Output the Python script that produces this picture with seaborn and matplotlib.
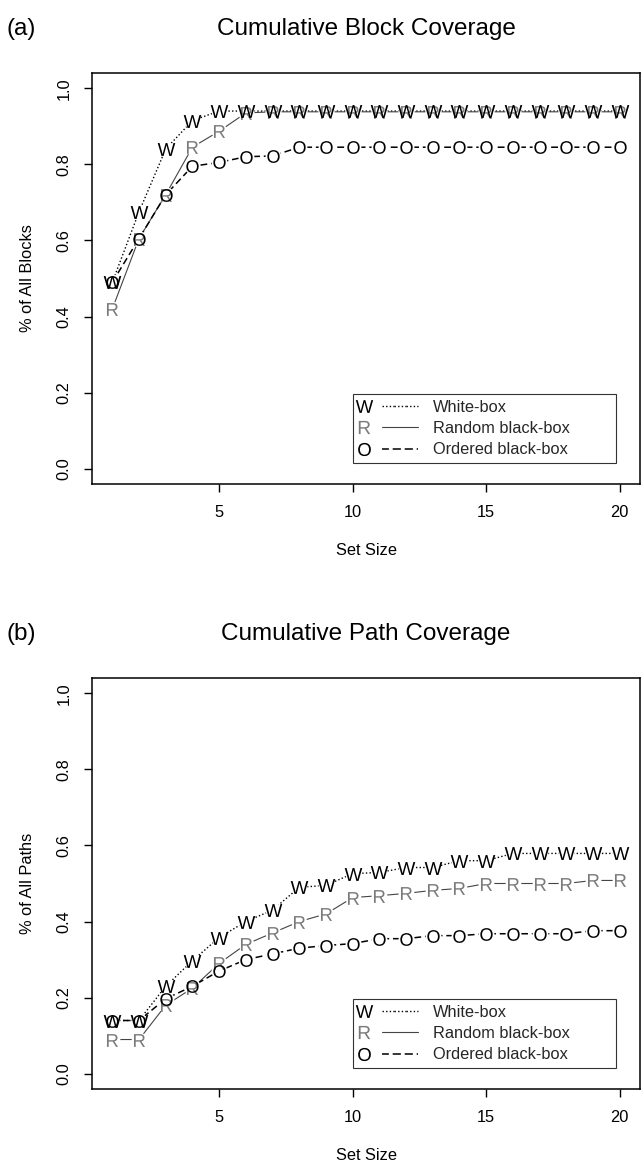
import matplotlib
matplotlib.use("Agg")
import matplotlib.pyplot as plt
import seaborn as sns
from matplotlib.lines import Line2D
from matplotlib.legend_handler import HandlerTuple
from matplotlib.ticker import FormatStrFormatter

# ---------------- data ----------------
set_size = list(range(1, 21))

block_white = [0.49, 0.675, 0.84, 0.915, 0.94, 0.94, 0.94, 0.94, 0.94, 0.94,
               0.94, 0.94, 0.94, 0.94, 0.94, 0.94, 0.94, 0.94, 0.94, 0.94]
block_random = [0.42, 0.605, 0.72, 0.845, 0.887, 0.935, 0.938, 0.938, 0.938, 0.938,
                0.938, 0.938, 0.938, 0.938, 0.938, 0.938, 0.938, 0.938, 0.938, 0.938]
block_ordered = [0.49, 0.605, 0.72, 0.795, 0.805, 0.82, 0.822, 0.845, 0.845, 0.845,
                 0.845, 0.845, 0.845, 0.845, 0.845, 0.845, 0.845, 0.845, 0.845, 0.845]

path_white = [0.14, 0.14, 0.23, 0.297, 0.358, 0.40, 0.43, 0.49, 0.495, 0.526,
              0.529, 0.542, 0.542, 0.56, 0.56, 0.579, 0.579, 0.579, 0.579, 0.579]
path_random = [0.09, 0.09, 0.18, 0.225, 0.29, 0.34, 0.37, 0.40, 0.42, 0.463,
               0.468, 0.474, 0.482, 0.487, 0.50, 0.50, 0.50, 0.50, 0.508, 0.508]
path_ordered = [0.14, 0.14, 0.197, 0.23, 0.27, 0.30, 0.315, 0.33, 0.337, 0.342,
                0.355, 0.355, 0.363, 0.363, 0.368, 0.368, 0.368, 0.368, 0.376, 0.376]

methods = ["White-box", "Random black-box", "Ordered black-box"]
letters = ["W", "R", "O"]
x_ticks = [5, 10, 15, 20]
y_ticks = [0.0, 0.2, 0.4, 0.6, 0.8, 1.0]

# ---------------- styles ----------------
letter_color = {"W": "black", "R": "#7a7a7a", "O": "black"}
line_color = {"W": "black", "R": "#444444", "O": "black"}
line_style = {"W": (0, (1, 1.6)), "R": "-", "O": (0, (4.5, 2.5))}
line_width = {"W": 1.0, "R": 0.8, "O": 1.1}
letter_size = {"W": 160, "R": 85, "O": 85}
legend_letter_size = {"W": 12.5, "R": 9.5, "O": 9.5}

sns.set_style("ticks")
plt.rcParams["font.family"] = ["Liberation Sans", "DejaVu Sans"]
plt.rcParams["mathtext.default"] = "regular"

FS = 11.8
W_PX, H_PX = 643, 1167
fig = plt.figure(figsize=(W_PX / 100, H_PX / 100), dpi=100)
fig.patch.set_facecolor("white")

ax1 = fig.add_axes([92 / W_PX, (H_PX - 484) / H_PX, 548 / W_PX, 411 / H_PX])
ax2 = fig.add_axes([92 / W_PX, (H_PX - 1089) / H_PX, 548 / W_PX, 411 / H_PX])


def draw_panel(ax, series, title, ylabel, tag):
    # connecting lines
    for let, ys in series:
        sns.lineplot(x=set_size, y=ys, ax=ax, color=line_color[let],
                     linestyle=line_style[let], linewidth=line_width[let],
                     zorder=2, estimator=None, sort=False)
    # gaps around the letters (like R's type = "b")
    for let, ys in series:
        sns.scatterplot(x=set_size, y=ys, ax=ax, color="white", marker="o",
                        s=130, linewidth=0, zorder=3)
    # letter point symbols
    for let in ["R", "O", "W"]:
        ys = dict(series)[let]
        sns.scatterplot(x=set_size, y=ys, ax=ax, color=letter_color[let],
                        marker=f"${let}$", s=letter_size[let], linewidth=0,
                        zorder=4)

    ax.set_xlim(0.24, 20.76)
    ax.set_ylim(-0.04, 1.04)
    ax.set_xticks(x_ticks)
    ax.set_yticks(y_ticks)
    ax.yaxis.set_major_formatter(FormatStrFormatter("%.1f"))
    ax.tick_params(axis="both", direction="out", length=5.8, width=1.0,
                   color="black", labelsize=FS, labelcolor="black")
    ax.tick_params(axis="x", pad=9)
    ax.tick_params(axis="y", pad=9)
    for lab in ax.get_yticklabels():
        lab.set_rotation(90)
        lab.set_va("center")
    for sp in ax.spines.values():
        sp.set_visible(True)
        sp.set_color("black")
        sp.set_linewidth(1.1)

    ax.set_xlabel("Set Size", fontsize=FS, color="black")
    ax.set_ylabel(ylabel, fontsize=FS, color="black")
    ax.xaxis.set_label_coords(0.5, -0.143)
    ax.yaxis.set_label_coords(-0.104, 0.5)
    ax.set_title(title, fontsize=17.5, pad=27.4, color="black")

    # legend: letter, then line sample, then label
    handles = []
    for let in letters:
        h_letter = Line2D([], [], marker=f"${let}$", linestyle="none",
                          color=letter_color[let],
                          markersize=legend_letter_size[let],
                          markeredgewidth=0)
        h_blank = Line2D([], [], linestyle="none")
        h_line = Line2D([], [], color=line_color[let],
                        linestyle=line_style[let], linewidth=line_width[let])
        handles.append((h_letter, h_blank, h_line, h_line, h_line))
    leg = ax.legend(handles=handles, labels=methods,
                    handler_map={tuple: HandlerTuple(ndivide=None, pad=0)},
                    loc="lower left", bbox_to_anchor=(0.476, 0.051, 0.480, 0.3),
                    mode="expand", borderaxespad=0, handlelength=3.6,
                    handletextpad=0.95, labelspacing=0.38, borderpad=0.35,
                    fontsize=FS, frameon=True, fancybox=False,
                    edgecolor="#333333", framealpha=1)
    leg.get_frame().set_linewidth(0.8)
    leg.set_zorder(5)

    # panel tag
    bbox = ax.get_position()
    fig.text(7 / W_PX, bbox.y1 + 38 / H_PX, tag, fontsize=17.5,
             va="baseline", ha="left", color="black")


draw_panel(ax1, [("W", block_white), ("R", block_random), ("O", block_ordered)],
           "Cumulative Block Coverage", "% of All Blocks", "(a)")
draw_panel(ax2, [("W", path_white), ("R", path_random), ("O", path_ordered)],
           "Cumulative Path Coverage", "% of All Paths", "(b)")

fig.savefig("out.png", dpi=100, facecolor="white")
